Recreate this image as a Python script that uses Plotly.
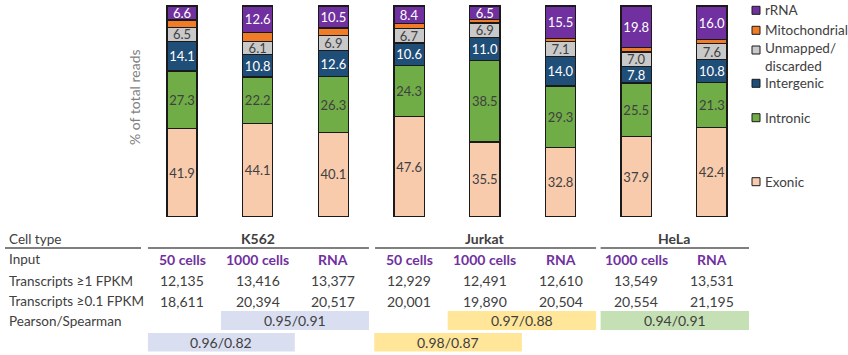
import plotly.graph_objects as go

# ---------------- data ----------------
samples = ["K562 50 cells", "K562 1000 cells", "K562 RNA", "Jurkat 50 cells",
           "Jurkat 1000 cells", "Jurkat RNA", "HeLa 1000 cells", "HeLa RNA"]
exonic = [41.9, 44.1, 40.1, 47.6, 35.5, 32.8, 37.9, 42.4]
intronic = [27.3, 22.2, 26.3, 24.3, 38.5, 29.3, 25.5, 21.3]
intergenic = [14.1, 10.8, 12.6, 10.6, 11.0, 14.0, 7.8, 10.8]
unmapped = [6.5, 6.1, 6.9, 6.7, 6.9, 7.1, 7.0, 7.6]
mito = [3.6, 4.2, 3.6, 2.4, 1.6, 1.3, 2.0, 1.9]
rrna = [6.6, 12.6, 10.5, 8.4, 6.5, 15.5, 19.8, 16.0]

series_names = ["Exonic", "Intronic", "Intergenic", "Unmapped/discarded", "Mitochondrial", "rRNA"]
series_values = [exonic, intronic, intergenic, unmapped, mito, rrna]
series_colors = ["#F8CBAD", "#70AD47", "#1F4E79", "#C9C9C9", "#F07C28", "#7030A0"]
series_textcolors = ["#404040", "#404040", "#FFFFFF", "#404040", "#FFFFFF", "#FFFFFF"]
series_show_text = [True, True, True, True, False, True]

cell_types = ["K562", "Jurkat", "HeLa"]
inputs = ["50 cells", "1000 cells", "RNA", "50 cells", "1000 cells", "RNA", "1000 cells", "RNA"]
transcripts_1 = ["12,135", "13,416", "13,377", "12,929", "12,491", "12,610", "13,549", "13,531"]
transcripts_01 = ["18,611", "20,394", "20,517", "20,001", "19,890", "20,504", "20,554", "21,195"]
corr_labels = ["0.95/0.91", "0.96/0.82", "0.97/0.88", "0.98/0.87", "0.94/0.91"]
row_labels = ["Cell type", "Input", "Transcripts ≥1 FPKM", "Transcripts ≥0.1 FPKM", "Pearson/Spearman"]

# ---------------- layout helpers ----------------
W, H = 848, 355
X0_PX, DX_PX = 182.0, 75.7      # pixel of first bar, spacing
Y0_PX, DY_PX = 216.7, 2.107     # pixel of 0%, pixels per %

def xd(px):
    return (px - X0_PX) / DX_PX

def yd(py):
    return (Y0_PX - py) / DY_PX

FONT = "Lato, 'Open Sans', sans-serif"
TXT = "#404040"

fig = go.Figure()
xs = list(range(len(samples)))
for name, vals, col, tcol, show in zip(series_names, series_values, series_colors,
                                       series_textcolors, series_show_text):
    fig.add_trace(go.Bar(
        x=xs, y=vals, name=name, width=0.4,
        marker=dict(color=col, line=dict(color="#1a1a1a", width=1.3)),
        text=[f"{v:.1f}" for v in vals] if show else None,
        textposition="inside" if show else "none",
        insidetextanchor="middle", textangle=0, constraintext="none",
        textfont=dict(color=tcol, size=13, family=FONT),
        hovertext=samples, showlegend=False,
    ))

fig.update_layout(
    width=W, height=H, barmode="stack",
    margin=dict(l=0, r=0, t=0, b=0),
    paper_bgcolor="white", plot_bgcolor="white",
    uniformtext=dict(minsize=13, mode="show"),
    xaxis=dict(range=[xd(0), xd(W)], visible=False, fixedrange=True),
    yaxis=dict(range=[yd(H), yd(0)], visible=False, fixedrange=True),
    font=dict(family=FONT, color=TXT),
)

shapes = []
annotations = []

# y-axis title
annotations.append(dict(x=xd(134), y=yd(97), text="% of total reads", textangle=-90,
                        showarrow=False, font=dict(size=14, color="#7F7F7F", family=FONT)))

# custom legend (text centre y, square centre y, colour index)
legend_items = [("rRNA", 10.3, 10.3, 5), ("Mitochondrial", 30.3, 30.3, 4),
                ("Unmapped/<br>discarded", 57.0, 50.0, 3),
                ("Intergenic", 83.3, 83.3, 2), ("Intronic", 117.7, 117.7, 1),
                ("Exonic", 181.7, 181.7, 0)]
for label, ypx, sqy, idx in legend_items:
    annotations.append(dict(x=xd(763), y=yd(ypx), text=label, xanchor="left", align="left",
                            showarrow=False, font=dict(size=13.5, color=TXT, family=FONT)))
    shapes.append(dict(type="rect", xref="x", yref="y",
                       x0=xd(752), x1=xd(760), y0=yd(sqy + 4), y1=yd(sqy - 4),
                       fillcolor=series_colors[idx], line=dict(color="#1a1a1a", width=1)))

# table row labels
row_ys = [239, 259.3, 280.7, 301.3, 321]
for lab, ypx in zip(row_labels, row_ys):
    annotations.append(dict(x=xd(7), y=yd(ypx), text=lab, xanchor="left", showarrow=False,
                            font=dict(size=13.5, color=TXT, family=FONT)))
shapes.append(dict(type="line", x0=xd(5), x1=xd(141), y0=yd(248), y1=yd(248),
                   line=dict(color="#808080", width=2)))

# cell type headers and group lines
header_x = [1, 4, 6.5]
group_spans = [(-0.45, 2.47), (2.55, 5.47), (5.53, 7.49)]
for ct, hx, (a, b) in zip(cell_types, header_x, group_spans):
    annotations.append(dict(x=hx, y=yd(238.3), text=f"<b>{ct}</b>", showarrow=False,
                            font=dict(size=14, color=TXT, family=FONT)))
    shapes.append(dict(type="line", x0=a, x1=b, y0=yd(248), y1=yd(248),
                       line=dict(color="#808080", width=2)))

# per-sample rows
for i in xs:
    annotations.append(dict(x=i, y=yd(259.3), text=f"<b>{inputs[i]}</b>", showarrow=False,
                            font=dict(size=14, color="#7030A0", family=FONT)))
    annotations.append(dict(x=i, y=yd(280.7), text=transcripts_1[i], showarrow=False,
                            font=dict(size=14, color=TXT, family=FONT)))
    annotations.append(dict(x=i, y=yd(301.3), text=transcripts_01[i], showarrow=False,
                            font=dict(size=14, color=TXT, family=FONT)))

# correlation boxes
corr_boxes = [((0.515, 2.47), (311, 330), "#D9DEF0"),
              ((-0.45, 1.49), (333, 351.5), "#D9DEF0"),
              ((3.51, 5.47), (311, 330), "#FFE699"),
              ((2.54, 4.49), (333, 351.5), "#FFE699"),
              ((5.53, 7.49), (311, 330), "#C5E0B4")]
for lab, ((a, b), (t, btm), col) in zip(corr_labels, corr_boxes):
    shapes.append(dict(type="rect", x0=a, x1=b, y0=yd(btm), y1=yd(t),
                       fillcolor=col, line=dict(width=0), layer="below"))
    annotations.append(dict(x=(a + b) / 2, y=yd((t + btm) / 2), text=lab, showarrow=False,
                            font=dict(size=14, color=TXT, family=FONT)))

fig.update_layout(shapes=shapes, annotations=annotations)
fig.write_html("out.html", config={"displayModeBar": False, "staticPlot": True},
               post_script="document.body.style.margin='0';document.body.style.overflow='hidden';")
